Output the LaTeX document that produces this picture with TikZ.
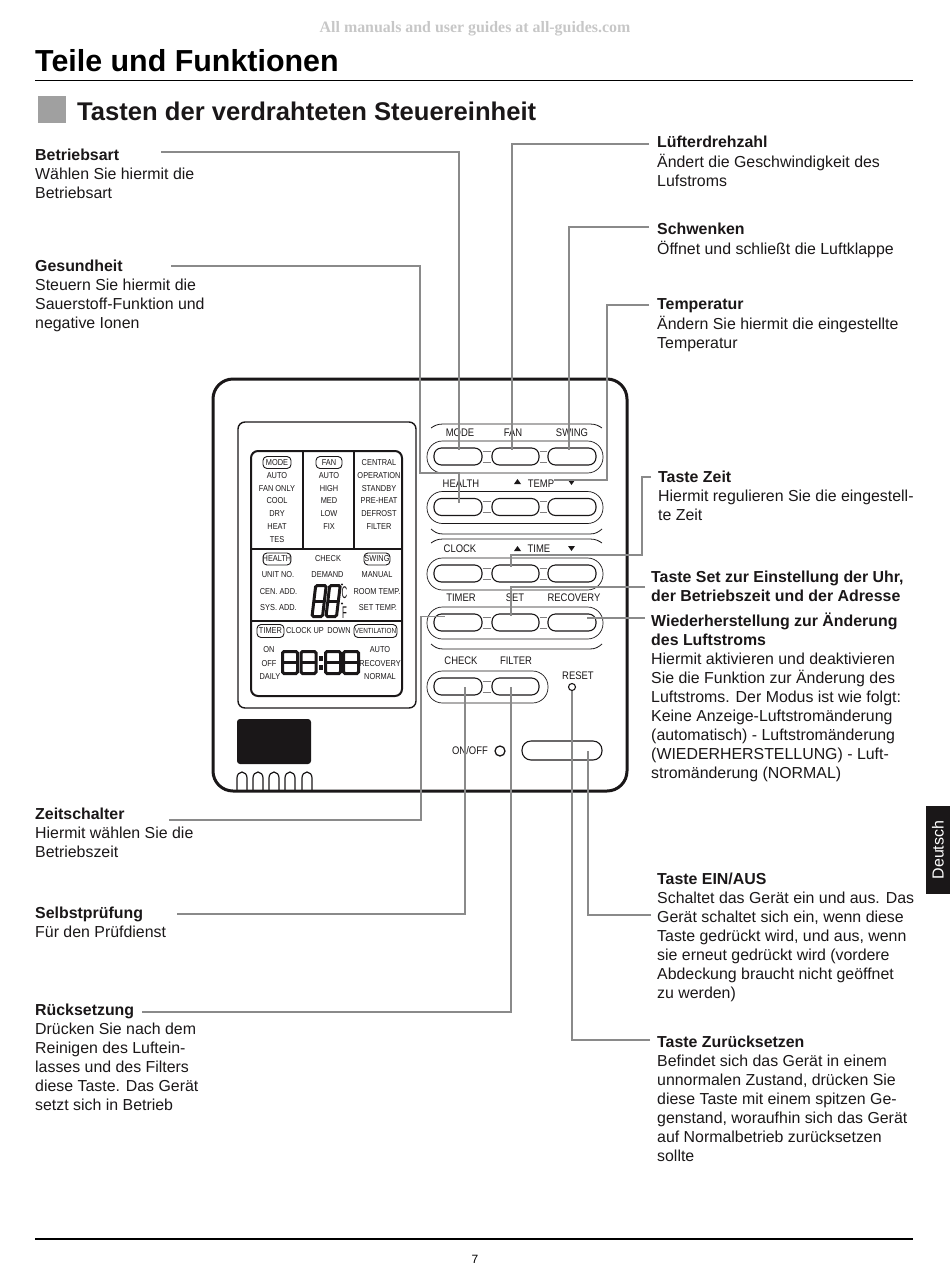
\documentclass[tikz,border=0pt]{standalone}
\usepackage{fontspec}
\usepackage{xcolor}
\setmainfont{Liberation Sans}
\newfontfamily\lcdfont[FakeStretch=0.86]{Liberation Sans}
\newfontfamily\markfont{Liberation Serif}
\usetikzlibrary{calc,positioning}
\definecolor{leadgray}{HTML}{8A8A8A}
\definecolor{squaregray}{HTML}{A0A0A0}
\definecolor{inkblack}{HTML}{1A1718}
\newcommand{\bodysize}{\fontsize{15.9}{19}\selectfont}
% outlined seven segment digit
\newcommand{\digiteight}[5]{%
  \draw[#5, rounded corners=1.5pt] (#1,#2) rectangle ({#1+#3},{#2+#4});
  \draw[#5] (#1,{#2+#4/2}) -- ({#1+#3},{#2+#4/2});
}
\tikzset{
  txtblock/.style={anchor=north west, inner sep=0pt, align=left, text=inkblack, font=\bodysize},
  leader/.style={draw=leadgray, line width=1.7pt},
  btn/.style={draw=inkblack, line width=1.1pt, rounded corners=7.5pt, minimum width=#1, minimum height=17pt, inner sep=0pt},
  btn/.default=48pt,
  pill/.style={draw=inkblack, line width=0.7pt, rounded corners=15.5pt, minimum height=32pt, inner sep=0pt},
  link/.style={draw=inkblack!55, line width=0.7pt},
  btnlabel/.style={inner sep=0pt, text=inkblack, font=\lcdfont\fontsize{11}{12}\selectfont},
  lcdlabel/.style={inner sep=0pt, text=inkblack, font=\lcdfont\fontsize{8.6}{9}\selectfont},
  lcdpill/.style={draw=inkblack, line width=0.9pt, rounded corners=4pt, minimum height=12pt, inner sep=0pt},
  seg/.style={draw=inkblack, line width=3pt},
}
\begin{document}
\begin{tikzpicture}[x=1pt, y=-1pt]
\useasboundingbox (0,0) rectangle (950,1285);
% page head
\node[inner sep=0pt, text=black!22, font=\markfont\bfseries\fontsize{15.9}{18}\selectfont] (watermark) at (475,29) {All manuals and user guides at all-guides.com};
\node[anchor=west, inner sep=0pt, font=\bfseries\fontsize{30.4}{34}\selectfont] (pagetitle) at (35,61) {Teile und Funktionen};
\draw[line width=1pt] (35,80) -- (913,80);
\fill[squaregray] (38,96) rectangle (66,123);
\node[anchor=west, inner sep=0pt, text=inkblack, font=\bfseries\fontsize{25.6}{28}\selectfont] (subtitle) at (77,111) {Tasten der verdrahteten Steuereinheit};
% page foot
\draw[line width=2pt] (35,1239) -- (913,1239);
\node[inner sep=0pt, font=\fontsize{12}{14}\selectfont] (pagenum) at (475,1259) {7};
\fill[inkblack] (926,806) rectangle (950,894);
\node[rotate=90, inner sep=0pt, text=white, font=\fontsize{16}{18}\selectfont] (tabtext) at (938,850) {Deutsch};

% left column
\node[txtblock] (txtmode) at (35,147) {\strut\textbf{Betriebsart}\\Wählen Sie hiermit die\\Betriebsart};
\node[txtblock] (txthealth) at (35,258) {\strut\textbf{Gesundheit}\\Steuern Sie hiermit die\\Sauerstoff-Funktion und\\negative Ionen};
\node[txtblock] (txttimer) at (35,806) {\strut\textbf{Zeitschalter}\\Hiermit wählen Sie die\\Betriebszeit};
\node[txtblock] (txtcheck) at (35,905) {\strut\textbf{Selbstprüfung}\\Für den Prüfdienst};
\node[txtblock] (txtfilter) at (35,1002) {\strut\textbf{Rücksetzung}\\Drücken Sie nach dem\\Reinigen des Luftein-\\lasses und des Filters\\diese Taste. Das Gerät\\setzt sich in Betrieb};
% right column
\node[txtblock] (txtfan) at (657,134) {\strut\textbf{Lüfterdrehzahl}\\Ändert die Geschwindigkeit des\\Lufstroms};
\node[txtblock] (txtswing) at (657,221) {\strut\textbf{Schwenken}\\Öffnet und schließt die Luftklappe};
\node[txtblock] (txttemp) at (657,296) {\strut\textbf{Temperatur}\\Ändern Sie hiermit die eingestellte\\Temperatur};
\node[txtblock] (txtclock) at (658,469) {\strut\textbf{Taste Zeit}\\Hiermit regulieren Sie die eingestell-\\te Zeit};
\node[txtblock] (txtset) at (651,569) {\strut\textbf{Taste Set zur Einstellung der Uhr,}\\\textbf{der Betriebszeit und der Adresse}};
\node[txtblock] (txtrecovery) at (651,613) {\strut\textbf{Wiederherstellung zur Änderung}\\\textbf{des Luftstroms}\\Hiermit aktivieren und deaktivieren\\Sie die Funktion zur Änderung des\\Luftstroms. Der Modus ist wie folgt:\\Keine Anzeige-Luftstromänderung\\(automatisch) - Luftstromänderung\\(WIEDERHERSTELLUNG) - Luft-\\stromänderung (NORMAL)};
\node[txtblock] (txtonoff) at (657,871) {\strut\textbf{Taste EIN/AUS}\\Schaltet das Gerät ein und aus. Das\\Gerät schaltet sich ein, wenn diese\\Taste gedrückt wird, und aus, wenn\\sie erneut gedrückt wird (vordere\\Abdeckung braucht nicht geöffnet\\zu werden)};
\node[txtblock] (txtreset) at (657,1034) {\strut\textbf{Taste Zurücksetzen}\\Befindet sich das Gerät in einem\\unnormalen Zustand, drücken Sie\\diese Taste mit einem spitzen Ge-\\genstand, woraufhin sich das Gerät\\auf Normalbetrieb zurücksetzen\\sollte};

% controller body
\draw[draw=inkblack, line width=3pt, rounded corners=20pt] (213,379) rectangle (627,791);
\draw[draw=inkblack, line width=1.4pt, rounded corners=7pt] (238,422) rectangle (416,708);
\draw[draw=inkblack, line width=2pt, rounded corners=7pt] (251,451) rectangle (402,696);
\draw[draw=inkblack, line width=1.5pt] (303,451) -- (303,549);
\draw[draw=inkblack, line width=1.5pt] (354,451) -- (354,549);
\draw[draw=inkblack, line width=1.5pt] (251,549) -- (402,549);
\draw[draw=inkblack, line width=1.5pt] (251,621) -- (402,621);
\fill[inkblack, rounded corners=3pt] (237,719) rectangle (311,764);
\foreach \tabx in {237,253,269,285,302} {
  \draw[draw=inkblack, line width=1.2pt] (\tabx,791) -- (\tabx,778) arc[start angle=180, end angle=0, x radius=5, y radius=-6] -- ({\tabx+10},791);
}

% lcd texts
\node[lcdpill, minimum width=28pt] (lcdmode) at (277,462.5) {};
\node[lcdpill, minimum width=26pt] (lcdfan) at (329,462.5) {};
\node[lcdpill, minimum width=28pt] (lcdhealth) at (277,559) {};
\node[lcdpill, minimum width=26pt] (lcdswing) at (377,559) {};
\node[lcdpill, minimum width=27pt, minimum height=13pt] (lcdtimer) at (270.5,631) {};
\node[lcdpill, minimum width=43pt, minimum height=13pt] (lcdvent) at (375.5,631) {};
\foreach \lcdx/\lcdy/\lcdtext in {277/462.5/MODE, 277/476/AUTO, 277/488.5/FAN ONLY, 277/501/COOL, 277/514/DRY, 277/527/HEAT, 277/540/TES,
  329/462.5/FAN, 329/476/AUTO, 329/488.5/HIGH, 329/501/MED, 329/514/LOW, 329/527/FIX,
  379/462.5/CENTRAL, 379/476/OPERATION, 379/488.5/STANDBY, 379/501/PRE-HEAT, 379/514/DEFROST, 379/527/FILTER,
  277/559/HEALTH, 328/558.5/CHECK, 377/559/SWING, 278/575/UNIT NO., 327.5/575/DEMAND, 377/575/MANUAL,
  278.5/592/CEN. ADD., 377/592/ROOM TEMP., 278.5/608/SYS. ADD., 378/608/SET TEMP.,
  270.5/631/TIMER, 305/631/CLOCK UP, 339/631/DOWN, 269/650/ON, 269/664/OFF, 270/677/DAILY,
  380/650/AUTO, 380/664/RECOVERY, 380/677/NORMAL} {
  \node[lcdlabel] at (\lcdx,\lcdy) {\lcdtext};
}
\node[lcdlabel, font=\lcdfont\fontsize{7.4}{8}\selectfont] (lcdventtext) at (375.5,631) {VENTILATION};
\node[inner sep=0pt, text=inkblack, xscale=0.7, yscale=1.3, font=\lcdfont\fontsize{13}{14}\selectfont] (lcdc) at (344.5,592.5) {C};
\node[inner sep=0pt, text=inkblack, xscale=0.7, yscale=1.3, font=\lcdfont\fontsize{13}{14}\selectfont] (lcdf) at (344.5,612.5) {F};
\fill[inkblack] (342,584.5) circle (1.2);
\fill[inkblack] (342,603.5) circle (1.2);
% lcd digits
\begin{scope}[shift={(311,616.5)}, xslant=0.12]
\digiteight{1}{-31}{10.5}{31}{seg}
\digiteight{15}{-31}{10.5}{31}{seg}
\end{scope}
\foreach \digx in {282.5,301,325.5,343.5} {
  \digiteight{\digx}{651.5}{15}{22}{seg}
}
\fill[inkblack] (319,656) rectangle (323,661);
\fill[inkblack] (319,665) rectangle (323,670);

% button rows
\node[pill, minimum width=176pt] (pillmode) at (515,457) {};
\node[pill, minimum width=176pt] (pillhealth) at (515,507.5) {};
\node[pill, minimum width=176pt] (pillclock) at (515,574) {};
\node[pill, minimum width=176pt] (pilltimer) at (515,623) {};
\node[pill, minimum width=121pt] (pillcheck) at (487.5,687) {};
\foreach \lname/\mname/\rname/\rowy in {btnmode/btnfan/btnswing/456.5, btnhealth/btntemp/btntempb/507, btnclock/btntime/btntimeb/573.5, btntimer/btnset/btnrecovery/622.5} {
  \node[btn] (\lname) at (458,\rowy) {};
  \node[btn=47pt] (\mname) at (515.5,\rowy) {};
  \node[btn] (\rname) at (572,\rowy) {};
  \draw[link] ($(\lname.east)+(0,-5.5)$) -- ($(\mname.west)+(0,-5.5)$);
  \draw[link] ($(\lname.east)+(0,5.5)$) -- ($(\mname.west)+(0,5.5)$);
  \draw[link] ($(\mname.east)+(0,-5.5)$) -- ($(\rname.west)+(0,-5.5)$);
  \draw[link] ($(\mname.east)+(0,5.5)$) -- ($(\rname.west)+(0,5.5)$);
}
\node[btn] (btncheck) at (458,686.5) {};
\node[btn=47pt] (btnfilter) at (515.5,686.5) {};
\draw[link] ($(btncheck.east)+(0,-5.5)$) -- ($(btnfilter.west)+(0,-5.5)$);
\draw[link] ($(btncheck.east)+(0,5.5)$) -- ($(btnfilter.west)+(0,5.5)$);
\node[draw=inkblack, line width=1.1pt, rounded corners=9pt, minimum width=80pt, minimum height=19pt, inner sep=0pt] (btnonoff) at (562,750.5) {};
\node[draw=inkblack, circle, line width=1.3pt, minimum size=10pt, inner sep=0pt] (ledonoff) at (500,751) {};
\node[draw=inkblack, circle, line width=1.1pt, minimum size=7pt, inner sep=0pt] (ledreset) at (572,687) {};
% brackets above and below the rows
\foreach \braty/\brbty in {428/424, 529/534, 543/539, 644/649} {
  \draw[draw=inkblack, line width=0.8pt] (431,\braty) .. controls (434,{(\braty+\brbty)/2}) and (437,\brbty) .. (443,\brbty) -- (590,\brbty) .. controls (596,\brbty) and (599,{(\braty+\brbty)/2}) .. (602,\braty);
}
% button labels
\foreach \lblx/\lbly/\lbltext in {460/433/MODE, 513/433/FAN, 572/433/SWING, 461/484/HEALTH, 460/549/CLOCK, 539/549/TIME, 461/598/TIMER, 515/598/SET, 574/598/RECOVERY, 461/661/CHECK, 516/661/FILTER, 578/676/RESET, 470/751/{ON/OFF}} {
  \node[btnlabel] at (\lblx,\lbly) {\lbltext};
}
\node[btnlabel] (lbltemp) at (541,484) {TEMP};
\foreach \triy/\trib in {484/479, 551/546} {
  \fill[inkblack] (514,\triy) -- (517.5,\trib) -- (521,\triy) -- cycle;
}
\foreach \triy/\trib in {480/485, 546/551} {
  \fill[inkblack] (568,\triy) -- (571.5,\trib) -- (575,\triy) -- cycle;
}

% free ends of the connectors
\coordinate (endmode) at (161,152);
\coordinate (endhealth) at (171,266);
\coordinate (endtimer) at (169,820);
\coordinate (endcheck) at (177,914);
\coordinate (endfilter) at (142,1012);
\coordinate (endfan) at (649,144);
\coordinate (endswing) at (649,227);
\coordinate (endtemp) at (649,305);
\coordinate (endclock) at (651,477);
\coordinate (endset) at (645,587);
\coordinate (endrecovery) at (645,618);
\coordinate (endonoff) at (651,915);
\coordinate (endreset) at (650,1040);
% connectors
\draw[leader] (endmode) -| ([xshift=1pt,yshift=-3pt]btnmode.north);
\draw[leader] (endhealth) -- ++(249,0) -- ++(0,207) -| ([xshift=1pt,yshift=-5pt]btnhealth.north);
\draw[leader] (endfan) -| ([xshift=-3.5pt,yshift=-3pt]btnfan.north);
\draw[leader] (endswing) -| ([xshift=-3pt,yshift=-3pt]btnswing.north);
\draw[leader] (endtemp) -- ++(-42,0) |- ([yshift=4pt]lbltemp.east);
\draw[leader] (endclock) -- ++(-9,0) -- ++(0,78) -| ([xshift=-4.5pt,yshift=-3pt]btntime.north);
\draw[leader] (endset) -| ([xshift=-4.5pt,yshift=-3pt]btnset.north);
\draw[leader] (endrecovery) -- ([xshift=15pt,yshift=4.5pt]btnrecovery.center);
\draw[leader] (endtimer) -- ++(252,0) |- ([xshift=-13pt,yshift=-3pt]btntimer.north);
\draw[leader] (endcheck) -| ([xshift=7pt]btncheck.center);
\draw[leader] (endfilter) -| ([xshift=-4.5pt]btnfilter.center);
\draw[leader] (endonoff) -- ++(-63,0) -- ([xshift=26pt]btnonoff.center);
\draw[leader] (endreset) -| (ledreset.south);
\end{tikzpicture}
\end{document}
